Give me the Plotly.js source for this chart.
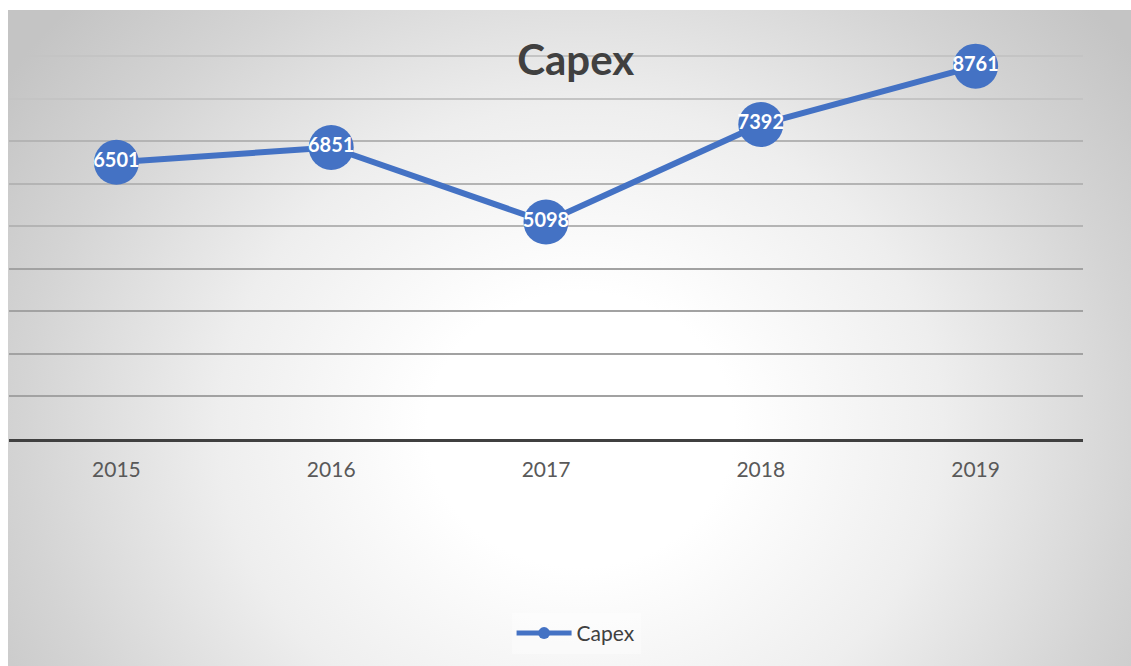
<!DOCTYPE html>
<html>
<head>
<meta charset="utf-8">
<script src="https://cdn.plot.ly/plotly-3.0.1.min.js"></script>
<style>
  html, body { margin: 0; padding: 0; background: #ffffff; }
  #bg {
    position: absolute; left: 8px; top: 10px; width: 1123px; height: 656px;
    background: radial-gradient(ellipse 62% 95% at 51% 64%, #ffffff 0%, #ffffff 22%, #eeeeee 52%, #d4d4d4 80%, #c4c4c4 100%);
  }
  #chart { position: absolute; left: 0; top: 0; width: 1131px; height: 666px; }
</style>
</head>
<body>
<div id="bg"></div>
<div id="chart"></div>
<script>
const years = ['2015', '2016', '2017', '2018', '2019'];
const capex = [6501, 6851, 5098, 7392, 8761];
const seriesName = 'Capex';
const chartTitle = 'Capex';
const gridLow = [1000, 2000, 3000, 4000];
const gridMid = [5000, 6000, 7000];
const gridHigh = [8000, 9000, 10000];

const blue = '#4472C4';
const yRange = [0, 10010];

const trace = {
  x: years,
  y: capex,
  name: seriesName,
  type: 'scatter',
  mode: 'lines+markers+text',
  line: { color: blue, width: 6 },
  marker: { color: blue, size: 45 },
  text: capex.map(String),
  textposition: 'middle center',
  textfont: { family: 'Lato, sans-serif', size: 20, color: '#ffffff', weight: 'bold' },
  cliponaxis: false,
  hoverinfo: 'x+y'
};

function gridAxis(vals, color, overlay) {
  const ax = {
    range: yRange,
    tickmode: 'array',
    tickvals: vals,
    showgrid: true,
    gridcolor: color,
    gridwidth: 2,
    showticklabels: false,
    zeroline: false,
    showline: false,
    ticks: '',
    fixedrange: true
  };
  if (overlay) { ax.overlaying = 'y'; ax.side = 'left'; }
  return ax;
}

const layout = {
  width: 1131,
  height: 666,
  paper_bgcolor: 'rgba(0,0,0,0)',
  plot_bgcolor: 'rgba(0,0,0,0)',
  margin: { l: 8.5, r: 47.5, t: 13, b: 227 },
  font: { family: 'Lato, sans-serif', color: '#595959' },
  title: {
    text: '<b>' + chartTitle + '</b>',
    font: { family: 'Lato, sans-serif', size: 42, color: '#404040' },
    x: 0.509, xref: 'container', xanchor: 'center',
    y: 0.909, yref: 'container', yanchor: 'middle'
  },
  xaxis: {
    type: 'category',
    range: [-0.5, 4.5],
    showgrid: false,
    showline: true,
    linecolor: '#404040',
    linewidth: 3,
    ticks: '',
    ticklabelstandoff: 10,
    tickfont: { family: 'Lato, sans-serif', size: 21, color: '#595959' },
    zeroline: false,
    fixedrange: true
  },
  yaxis: gridAxis(gridLow, '#a2a2a2', false),
  yaxis2: gridAxis(gridMid, '#b4b4b4', true),
  yaxis3: gridAxis(gridHigh, '#c4c4c4', true),
  showlegend: true,
  legend: {
    orientation: 'h',
    x: 0.528, xanchor: 'center',
    y: -0.4565, yanchor: 'middle',
    bgcolor: 'rgba(255,255,255,0.35)',
    font: { family: 'Lato, sans-serif', size: 21, color: '#404040' },
    itemsizing: 'constant',
    itemwidth: 55
  }
};

const dummy2 = { x: years, y: capex, yaxis: 'y2', type: 'scatter', mode: 'none', showlegend: false, hoverinfo: 'skip' };
const dummy3 = { x: years, y: capex, yaxis: 'y3', type: 'scatter', mode: 'none', showlegend: false, hoverinfo: 'skip' };

Plotly.newPlot('chart', [dummy2, dummy3, trace], layout, { displayModeBar: false, staticPlot: true });
</script>
</body>
</html>
